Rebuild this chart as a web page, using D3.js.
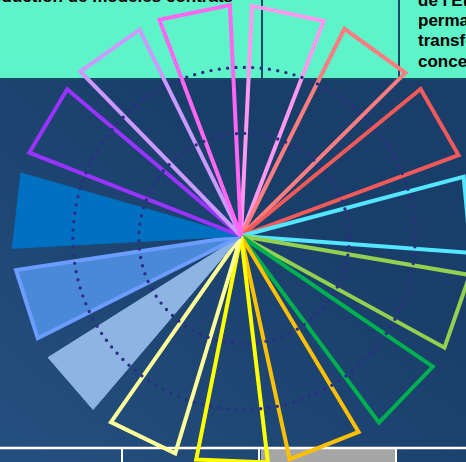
<!DOCTYPE html>
<html><head><meta charset="utf-8">
<script src="https://cdn.jsdelivr.net/npm/d3@7"></script>
<style>html,body{margin:0;padding:0;background:#1b3f6b;overflow:hidden}svg{display:block}</style>
</head><body><svg id="c" width="466" height="462"></svg>
<script>
// ---- data ----
const categories = ["rose","saumon","corail","cyan","vert clair","vert","or","jaune","jaune pâle","bleu ciel","bleu moyen","bleu","violet","lavande","magenta"];
// angular share of each sector
const shares     = [23.7, 24.25, 24.5, 24.75, 24.75, 25.0, 24.25, 23.5, 23.5, 22.5, 23.5, 24.75, 24.25, 23.55, 23.25];
// radial length of each sector (percent of full scale)
const values     = [96.0, 96.5, 96.7, 96.0, 96.7, 96.7, 95.2, 95.0, 94.6, 95.0, 94.8, 95.4, 94.8, 95.8, 96.3];
const strokeColors = ["#ff99f0","#ff7c80","#f25a5a","#55e6ff","#92d050","#00b050","#ffc000","#ffff00","#ffff99","#8db4e2","#6b9cff","#0070c0","#9933ff","#cc99ff","#ff66f2"];
const fillColors   = [null,null,null,null,null,null,null,null,null,"#8db4e2","#4a89d8","#0070c0",null,null,null];
const strokeWidths = [4,4,4,4,4,4,4,4,4,0,4,0,4,4,4];
const ringValues = [43.8, 71.3];
const topLeftLines = ["introduction de modèles contrats"];
const topRightLines = ["de l'État","permanents","transformés","concernés"];

const W = 466, H = 462;
const cx = 241, cy = 236;
const svg = d3.select("#c");

// background
const defs = svg.append("defs");
const g0 = defs.append("linearGradient").attr("id","bg").attr("x1",0).attr("y1",1).attr("x2",0.55).attr("y2",0.35);
g0.append("stop").attr("offset",0).attr("stop-color","#24507f");
g0.append("stop").attr("offset",1).attr("stop-color","#1a3e6a");
svg.append("rect").attr("width",W).attr("height",H).attr("fill","url(#bg)");

// top band
svg.append("rect").attr("x",0).attr("y",0).attr("width",W).attr("height",79).attr("fill","#5ef3c9");
svg.append("line").attr("x1",0).attr("x2",W).attr("y1",79).attr("y2",79).attr("stroke","#1a4a6a").attr("stroke-width",2);
[262,399].forEach(x=>svg.append("line").attr("x1",x).attr("x2",x).attr("y1",0).attr("y2",79).attr("stroke","#1a4a6a").attr("stroke-width",2));
const tf = "'Liberation Sans', Arial, sans-serif";
svg.append("text").attr("x",233).attr("y",2).attr("text-anchor","end").attr("font-family",tf).attr("font-weight","bold").attr("font-size",17).attr("fill","#000").text(topLeftLines[0]);
svg.append("g").selectAll("text").data(topRightLines).join("text")
  .attr("x",418).attr("y",(d,i)=>6+i*20.2).attr("font-family",tf).attr("font-weight","bold").attr("font-size",17).attr("fill","#000").text(d=>d);

// bottom table
svg.append("rect").attr("x",261).attr("y",449).attr("width",134).attr("height",14).attr("fill","#a6a6a6");
svg.append("line").attr("x1",0).attr("x2",W).attr("y1",448).attr("y2",448).attr("stroke","#ffffff").attr("stroke-width",2.5);
[122,259,396].forEach(x=>svg.append("line").attr("x1",x).attr("x2",x).attr("y1",448).attr("y2",H).attr("stroke","#ffffff").attr("stroke-width",2));

// scales / layout
const pie = d3.pie().value(d=>d.share).sort(null).startAngle(0).endAngle(2*Math.PI).padAngle(5.5*Math.PI/180);
const radius = d3.scaleLinear().domain([0,100]).range([0,240]);
const wedge = d3.lineRadial().angle(d=>d[0]).radius(d=>d[1]).curve(d3.curveLinearClosed);

const data = categories.map((c,i)=>({c, share:shares[i], v:values[i], stroke:strokeColors[i], fill:fillColors[i], sw:strokeWidths[i]}));
const arcs = pie(data);

const gW = svg.append("g").attr("transform",`translate(${cx},${cy})`);
gW.selectAll("path").data(arcs).join("path")
  .attr("d", d=>{
    const a0 = d.startAngle + d.padAngle/2, a1 = d.endAngle - d.padAngle/2, r = radius(d.data.v);
    return wedge([[a0,0],[a0,r],[a1,r]]);
  })
  .attr("fill", d=>d.data.fill || "none")
  .attr("stroke", d=>d.data.sw ? d.data.stroke : d.data.fill)
  .attr("stroke-width", d=>d.data.sw || 1)
  .attr("stroke-linejoin","miter");

// dotted rings
const gR = svg.append("g").attr("transform",`translate(${cx+3},${cy+2.5})`);
gR.selectAll("circle").data(ringValues).join("circle")
  .attr("r", d=>radius(d))
  .attr("fill","none").attr("stroke","#2b2d86").attr("stroke-width",3.4)
  .attr("stroke-linecap","round").attr("stroke-dasharray","0 8.4");
</script></body></html>
